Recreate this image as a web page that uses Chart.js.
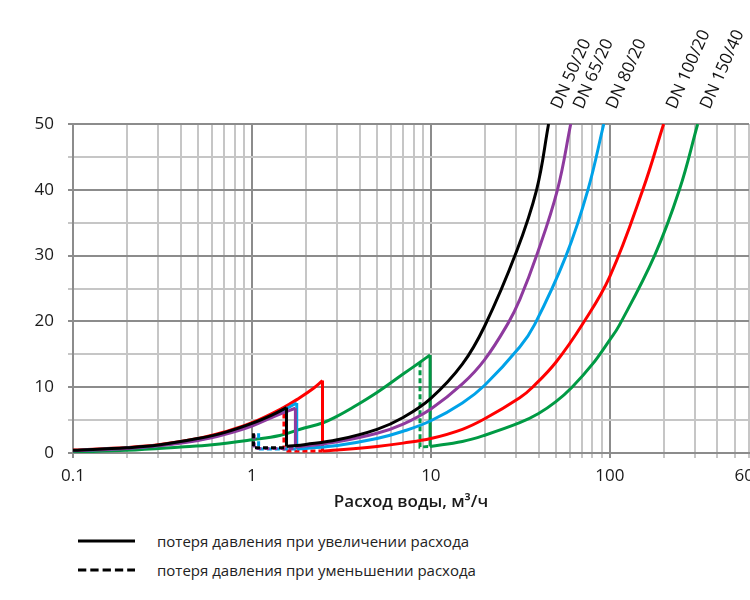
<!DOCTYPE html>
<html>
<head>
<meta charset="utf-8">
<script src="https://cdn.jsdelivr.net/npm/chart.js@4.4.1/dist/chart.umd.min.js"></script>
<style>
html,body{margin:0;padding:0;background:#fff;}
#wrap{position:relative;width:750px;height:600px;overflow:hidden;}
#c{position:absolute;left:0;top:0;}
.row{position:absolute;left:78px;height:20px;display:flex;align-items:center;white-space:nowrap;
 font-family:'Open Sans',sans-serif;font-size:15px;color:#222;}
.row svg{width:58px;height:6px;margin-right:21px;display:block;}
</style>
</head>
<body>
<div id="wrap">
<canvas id="c" width="750" height="520"></canvas>
<div class="row" style="top:531px"><svg viewBox="0 0 58 6"><line x1="0" y1="3" x2="57" y2="3" stroke="#000" stroke-width="3"/></svg><span>потеря давления при увеличении расхода</span></div>
<div class="row" style="top:560px"><svg viewBox="0 0 58 6"><line x1="0" y1="3" x2="57" y2="3" stroke="#000" stroke-width="3" stroke-dasharray="8.3,4"/></svg><span>потеря давления при уменьшении расхода</span></div>
</div>
<script>
// ---- tick values ----
const xTicks = [0.1,0.2,0.3,0.4,0.5,0.6,0.7,0.8,0.9,1,2,3,4,5,6,7,8,9,10,20,30,40,50,60,70,80,90,100,200,300,400,500,600];
const xLabels = [0.1, 1, 10, 100, 600];
const xMajor = [0.1, 1, 10, 100];
const yTicks = [0,5,10,15,20,25,30,35,40,45,50];
const yLabels = [0,10,20,30,40,50];

// ---- series labels ----
const dnLabels = ['DN 50/20','DN 65/20','DN 80/20','DN 100/20','DN 150/40'];
const colors = ['#000000','#8e3a9e','#00a2e8','#ff0000','#009a44'];

// ---- DN 50/20 (flow m3/h, pressure loss) ----
const rise50 = [[0.1,0.4],[0.2,0.8],[0.3,1.2],[0.5,2.2],[0.7,3.1],[1,4.5],[1.3,5.8],[1.56,6.9]];
const main50 = [[1.56,1.0],[2,1.3],[3,2.0],[5,3.6],[7,5.4],[10,8.3],[15,13.5],[20,19.3],[30,30.5],[39,40],[45.5,50]];
const dash50 = [[1.02,3.0],[1.02,0.8],[1.56,0.8]];

// ---- DN 65/20 ----
const rise65 = [[0.1,0.35],[0.2,0.7],[0.3,1.1],[0.5,1.9],[0.7,2.8],[1,4.1],[1.4,5.8],[1.75,6.8]];
const main65 = [[1.75,0.9],[2,1.05],[3,1.7],[5,3.0],[7,4.4],[10,6.7],[15,10.5],[20,14.2],[27,19.7],[31.4,23.3],[39,30],[51,40],[60.5,50]];
const dash65 = [[1.03,2.8],[1.03,0.7],[1.75,0.7]];

// ---- DN 80/20 ----
const rise80 = [[0.1,0.38],[0.2,0.75],[0.3,1.15],[0.5,2.0],[0.7,2.95],[1,4.3],[1.4,6.1],[1.56,6.75],[1.78,7.6]];
const main80 = [[1.78,0.6],[2,0.7],[3,1.15],[5,2.2],[7,3.3],[10,4.9],[15,7.6],[20,10.3],[31.4,16.1],[38,19.5],[57,30],[75.5,40],[92.6,50]];
const dash80 = [[1.09,3.0],[1.09,0.6],[1.78,0.6]];

// ---- DN 100/20 ----
const rise100 = [[0.1,0.45],[0.2,0.85],[0.3,1.25],[0.5,2.2],[0.7,3.2],[1,4.6],[1.5,6.9],[1.85,8.4],[2.2,9.8],[2.48,11.0]];
const main100 = [[2.48,0.3],[3,0.45],[5,1.0],[7,1.5],[10,2.2],[15,3.6],[20,5.2],[31.4,8.4],[37,10],[50,13.8],[70.5,19.6],[100,26.8],[153,40],[200,50]];
const dash100 = [[1.51,6.0],[1.51,0.3],[2.48,0.3]];

// ---- DN 150/40 ----
const rise150 = [[0.1,0.15],[0.2,0.4],[0.4,0.9],[0.6,1.25],[1,2.0],[1.43,2.65],[1.86,3.6],[2.5,4.6],[3,5.6],[3.5,6.6],[5,9.2],[7,12.0],[8.7,13.8],[9.9,14.9]];
const main150 = [[9.9,1.0],[15,1.75],[20,2.7],[31.4,4.6],[40,6.0],[50,7.8],[61.5,10],[80,13.5],[100,17.2],[113,19.4],[178,30],[245,40],[310,50]];
const dash150 = [[8.7,13.8],[8.7,0.9],[9.9,1.0]];

const rises = [rise50, rise65, rise80, rise100, rise150];
const mains = [main50, main65, main80, main100, main150];
const dashes = [dash50, dash65, dash80, dash100, dash150];

const FONT = "'Open Sans', sans-serif";
const MAJOR = '#8c8c8c', MINOR = '#c6c6c6';
const X_LABEL_LH = 36; // tick-label line box below the axis

const datasets = [];
rises.forEach((rise, i) => {
  const col = colors[i];
  const base = {borderColor: col, backgroundColor: col, borderWidth: 3, pointRadius: 0, pointHoverRadius: 0, fill: false};
  datasets.push(Object.assign({}, base, {label: dnLabels[i], data: rise, tension: 0.4}));
  datasets.push(Object.assign({}, base, {label: dnLabels[i] + ' drop', data: [rise[rise.length - 1], mains[i][0]], tension: 0}));
  datasets.push(Object.assign({}, base, {label: dnLabels[i] + ' main', data: mains[i], tension: 0.4}));
  datasets.push(Object.assign({}, base, {label: dnLabels[i] + ' dec', data: dashes[i], tension: 0, borderDash: [5, 3]}));
});

const labelPlugin = {
  id: 'dnLabels',
  afterDraw(chart) {
    const {ctx, chartArea, scales} = chart;
    const x = scales.x;
    ctx.save();
    ctx.font = "17px " + FONT;
    ctx.fillStyle = '#111';
    ctx.textBaseline = 'alphabetic';
    ctx.textAlign = 'left';
    dnLabels.forEach((t, i) => {
      const end = mains[i][mains[i].length - 1];
      const px = x.getPixelForValue(end[0]);
      ctx.save();
      ctx.translate(px + 12, chartArea.top - 14);
      ctx.rotate(-66 * Math.PI / 180);
      ctx.fillText(t, 0, 0);
      ctx.restore();
    });
    // tick label at the axis maximum, partly outside the canvas as in the original
    const o = x.options;
    ctx.textAlign = 'center';
    ctx.textBaseline = 'middle';
    ctx.fillStyle = '#1a1a1a';
    xLabels.filter(v => v >= x.max).forEach(v => {
      ctx.fillText(String(v), x.getPixelForValue(v), x.top + o.grid.tickLength + o.ticks.padding + X_LABEL_LH / 2);
    });
    ctx.restore();
  }
};

new Chart(document.getElementById('c'), {
  type: 'line',
  data: {datasets},
  options: {
    responsive: false,
    animation: false,
    events: [],
    layout: {autoPadding: false, padding: {top: 124, right: 1, left: 0, bottom: 0}},
    plugins: {legend: {display: false}, tooltip: {enabled: false}},
    scales: {
      x: {
        type: 'logarithmic',
        min: 0.1, max: 600,
        afterBuildTicks: (s) => { s.ticks = xTicks.map(v => ({value: v})); },
        afterFit: (s) => { s.height = 67; },
        ticks: {
          autoSkip: false, maxRotation: 0, padding: 0,
          color: '#1a1a1a', font: {family: FONT, size: 17, lineHeight: X_LABEL_LH + 'px'},
          callback: (v) => (xLabels.includes(v) && v < 600) ? String(v) : ''
        },
        grid: {
          lineWidth: 2, tickLength: 5,
          color: (c) => (c.tick && xMajor.includes(c.tick.value)) ? MAJOR : MINOR
        },
        border: {color: MAJOR, width: 2},
        title: {
          display: true, text: 'Расход воды, м³/ч', color: '#1a1a1a',
          font: {family: FONT, size: 17, weight: '600'},
          padding: {top: 0, bottom: 8}
        }
      },
      y: {
        type: 'linear',
        min: 0, max: 50,
        afterBuildTicks: (s) => { s.ticks = yTicks.map(v => ({value: v})); },
        afterFit: (s) => { s.width = 73; },
        ticks: {
          padding: 14, color: '#1a1a1a', font: {family: FONT, size: 17},
          callback: (v) => yLabels.includes(v) ? String(v) : ''
        },
        grid: {
          lineWidth: 2, tickLength: 5,
          color: (c) => (c.tick && yLabels.includes(c.tick.value)) ? MAJOR : MINOR
        },
        border: {color: MAJOR, width: 2}
      }
    }
  },
  plugins: [labelPlugin]
});
</script>
</body>
</html>
